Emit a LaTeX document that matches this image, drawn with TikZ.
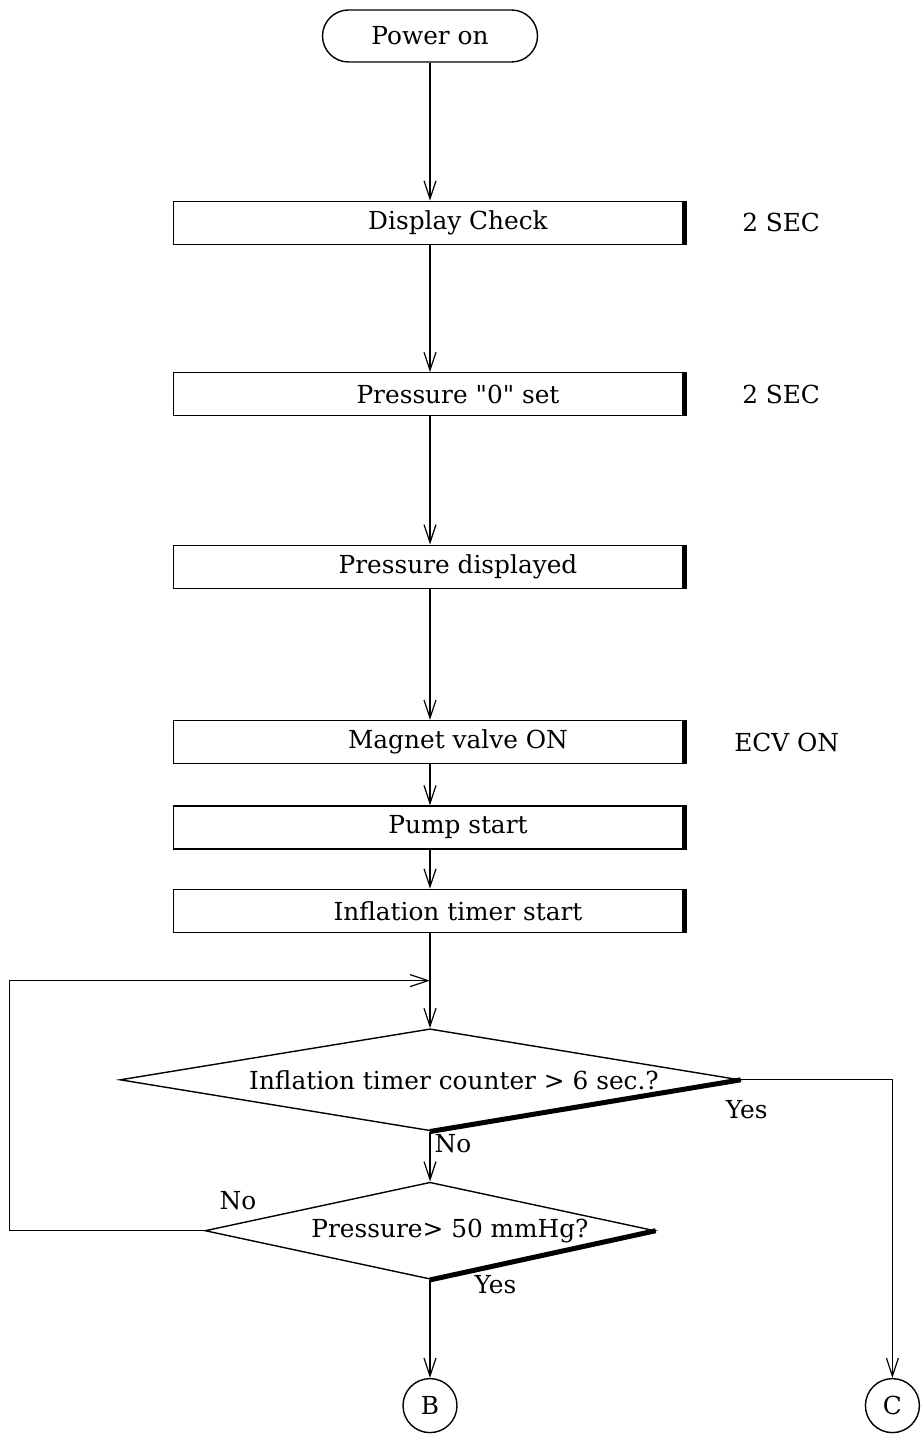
\documentclass[tikz,border=0pt]{standalone}
\usepackage{fontspec}
\setmainfont{DejaVu Serif}
\usetikzlibrary{shapes.geometric,arrows.meta,positioning,calc}

\begin{document}
\begin{tikzpicture}[
      x=0.5pt, y=-0.5pt,
      font=\fontsize{12.4}{14}\selectfont,
      term/.style={rectangle, draw, line width=0.7pt, rounded corners=13pt, minimum width=107.5pt, minimum height=26pt},
      proc/.style={rectangle, draw, line width=0.7pt, minimum width=256.5pt, minimum height=21.5pt, inner ysep=2pt, execute at begin node=\hspace*{28pt}},
      dec/.style={diamond, draw, line width=0.7pt, inner sep=0pt, aspect=6},
      conn/.style={circle, draw, line width=0.7pt, minimum size=27pt, inner sep=0pt},
      note/.style={inner sep=3.33pt},
      lbl/.style={inner sep=2pt},
      flow/.style={-{Straight Barb[length=9pt,width=6pt]}, line width=0.6pt},
      shade/.style={line width=2.5pt}
    ]
      \useasboundingbox (0,0) rectangle (921,1438);

      \node[term] (pwr) at (430,36) {Power on};
      \node[proc, below=69pt of pwr] (disp) {Display Check};
      \node[proc, below=63.5pt of disp] (zero) {Pressure \textquotedbl0\textquotedbl\ set};
      \node[proc, below=64pt of zero] (shown) {Pressure displayed};
      \node[proc, below=65.5pt of shown] (valve) {Magnet valve ON};
      \node[proc, below=20.5pt of valve] (pump) {Pump start};
      \node[proc, below=19.5pt of pump] (infl) {Inflation timer start};

      \node[dec, minimum width=310pt, minimum height=51pt, below=47.5pt of infl] (d1) {\hspace*{24pt}Inflation timer counter > 6 sec.?};
      \node[dec, aspect=5, minimum width=225pt, minimum height=48.5pt, below=25pt of d1] (d2) {\hspace*{20pt}Pressure> 50 mmHg?};

      \node[conn, below=49pt of d2] (cB) {B};
      \node[conn, right=203.5pt of cB] (cC) {C};

      \node[note, right=24pt of disp] (t1) {2 SEC};
      \node[note, right=24pt of zero] (t2) {2 SEC};
      \node[note, right=20pt of valve] (t3) {ECV ON};

      \coordinate (merge) at ($(infl.south)!0.5!(d1.north)$);

      % shadow edges
      \foreach \b in {disp,zero,shown,valve,pump,infl}
        \draw[shade] ([xshift=-1.25pt]\b.north east) -- ([xshift=-1.25pt]\b.south east);
      \foreach \d in {d1,d2}
        \draw[shade] (\d.south) -- (\d.east);

      \draw[flow] (pwr) -- (disp);
      \draw[flow] (disp) -- (zero);
      \draw[flow] (zero) -- (shown);
      \draw[flow] (shown) -- (valve);
      \draw[flow] (valve) -- (pump);
      \draw[flow] (pump) -- (infl);
      \draw[flow] (infl) -- (d1);
      \draw[flow] (d1) -- node[lbl, right, pos=0.24] {No} (d2);
      \draw[flow] (d2) -- node[lbl, right=20pt, pos=0.05] {Yes} (cB);
      \draw[flow] (d1.east) -| node[lbl, below=8pt, pos=0.02] {Yes} (cC);
      \draw[flow] (d2.west) -- ++(-195,0) |- (merge);
      \node[lbl, above right=8pt and 5.5pt of d2.west] (no2) {No};
    \end{tikzpicture}
\end{document}
